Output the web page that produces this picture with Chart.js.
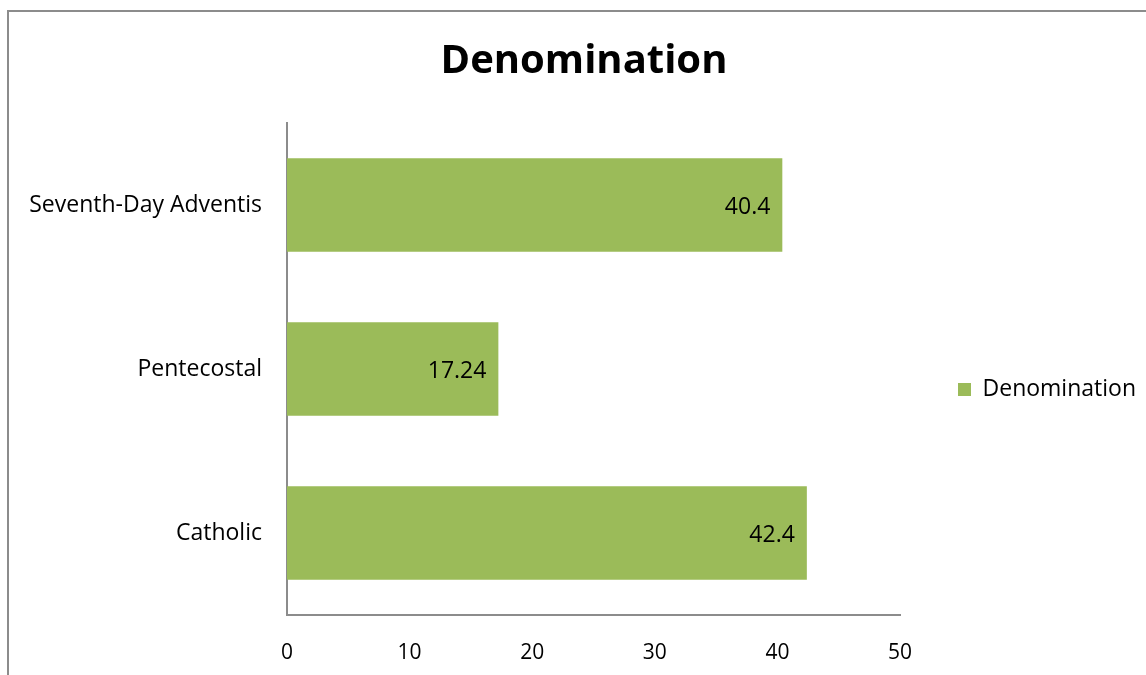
<!DOCTYPE html>
<html>
<head>
<meta charset="utf-8">
<script src="https://cdn.jsdelivr.net/npm/chart.js@4"></script>
<style>
  html, body { margin: 0; padding: 0; background: #fff; }
  #frame {
    position: absolute; left: 0; top: 0; width: 1146px; height: 675px; overflow: hidden;
  }
  #edge {
    position: absolute; left: 7px; top: 10px; width: 1200px; height: 700px;
    border-left: 2px solid #8c8c8c; border-top: 2px solid #8c8c8c;
  }
  #wrap { position: absolute; left: 0; top: 0; width: 1146px; height: 675px; }
</style>
</head>
<body>
<div id="frame">
  <div id="edge"></div>
  <div id="wrap"><canvas id="chart"></canvas></div>
</div>
<script>
// Chart data
const categories = ['Seventh-Day Adventis', 'Pentecostal', 'Catholic'];
const seriesName = 'Denomination';
const values = [40.4, 17.24, 42.4];
const valueLabels = ['40.4', '17.24', '42.4'];
const xTicks = [0, 10, 20, 30, 40, 50];

const FONT = 'Open Sans';
const barColor = '#9bbb59';
const axisColor = '#8c8c8c';

// Value labels at the inside end of each bar
const barLabels = {
    id: 'barLabels',
    afterDatasetsDraw(chart) {
        const ctx = chart.ctx;
        const meta = chart.getDatasetMeta(0);
        ctx.save();
        ctx.font = '23px "' + FONT + '"';
        ctx.fillStyle = '#000';
        ctx.textAlign = 'right';
        ctx.textBaseline = 'middle';
        meta.data.forEach((bar, i) => {
            ctx.fillText(valueLabels[i], bar.x - 12, bar.y + 2);
        });
        ctx.restore();
    }
};

// Nudge legend (right, a bit below the middle) and title (slightly right)
const layoutNudge = {
    id: 'layoutNudge',
    afterLayout(chart) {
        const lg = chart.legend;
        lg.left += 24; lg.right += 24;
        lg.top += 52; lg.bottom += 52;
        const tb = chart.titleBlock;
        tb.left += 23; tb.right += 23;
    }
};

const ctx = document.getElementById('chart').getContext('2d');
new Chart(ctx, {
    type: 'bar',
    data: {
        labels: categories,
        datasets: [{
            label: seriesName,
            data: values,
            backgroundColor: barColor,
            borderWidth: 0,
            barPercentage: 0.57,
            categoryPercentage: 1.0
        }]
    },
    options: {
        indexAxis: 'y',
        responsive: true,
        maintainAspectRatio: false,
        animation: false,
        layout: { padding: { left: 0, right: 24, top: 0, bottom: 0 } },
        plugins: {
            title: {
                display: true,
                text: 'Denomination',
                color: '#000',
                font: { family: FONT, size: 40, weight: 'bold', lineHeight: 1.2 },
                padding: { top: 38, bottom: 37 }
            },
            legend: {
                position: 'right',
                labels: {
                    color: '#000',
                    boxWidth: 13,
                    boxHeight: 13,
                    padding: 34,
                    font: { family: FONT, size: 23 }
                }
            },
            tooltip: { enabled: false }
        },
        scales: {
            x: {
                min: 0,
                max: 50,
                afterBuildTicks: (scale) => { scale.ticks = xTicks.map(v => ({ value: v })); },
                afterFit: (scale) => { scale.height = 60; },
                grid: { display: false, drawTicks: false },
                border: { display: true, color: axisColor, width: 2 },
                ticks: { color: '#000', padding: 25, font: { family: FONT, size: 21 } }
            },
            y: {
                afterFit: (scale) => { scale.width = 287; },
                grid: { display: false, drawTicks: false },
                border: { display: true, color: axisColor, width: 2 },
                ticks: { color: '#000', padding: 25, font: { family: FONT, size: 23 } }
            }
        }
    },
    plugins: [barLabels, layoutNudge]
});
</script>
</body>
</html>
